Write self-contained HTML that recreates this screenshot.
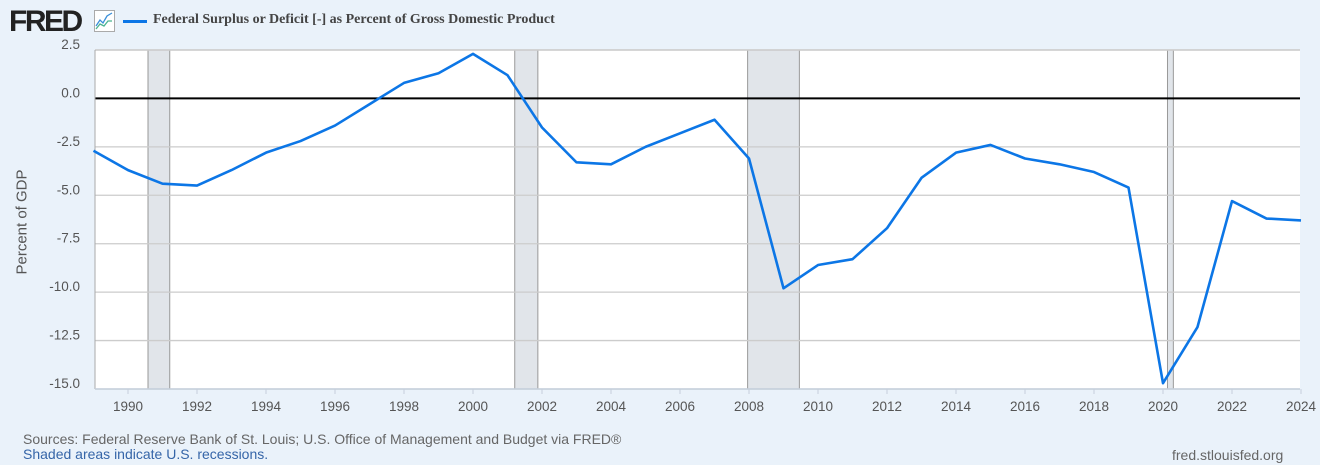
<!DOCTYPE html>
<html><head><meta charset="utf-8"><style>
body{margin:0;width:1320px;height:465px;background:#eaf2fa;font-family:"Liberation Sans",sans-serif;overflow:hidden;position:relative}
.t{position:absolute;white-space:nowrap}
</style></head><body>
<div class="t" style="left:9px;top:5px;font:bold 30px 'Liberation Sans',sans-serif;color:#222;letter-spacing:-2.5px">FRED</div>
<svg style="position:absolute;left:94px;top:10px" width="21" height="22"><rect x="0.5" y="0.5" width="20" height="21" fill="#fff" stroke="#aaa"/><polyline points="2,16 6,10 9,13 13,6 18,3" fill="none" stroke="#3b8fd9" stroke-width="1.3"/><polyline points="2,19 6,14 10,16 14,11 18,11" fill="none" stroke="#4bb38f" stroke-width="1.3"/></svg>
<div style="position:absolute;left:123px;top:20px;width:24px;height:3px;background:#0c76e6"></div>
<div class="t" style="left:153px;top:12px;font:bold 14px 'Liberation Serif',serif;color:#444">Federal Surplus or Deficit [-] as Percent of Gross Domestic Product</div>
<svg id="c" style="position:absolute;left:0;top:0" width="1320" height="465"></svg>
<div class="t" style="left:22px;top:222px;transform:translate(-50%,-50%) rotate(-90deg);font-size:15px;color:#555">Percent of GDP</div>
<div class="t" style="left:23px;top:431px;font-size:14px;color:#666">Sources: Federal Reserve Bank of St. Louis; U.S. Office of Management and Budget via FRED®</div>
<div class="t" style="left:23px;top:446px;font-size:14px;color:#3565a8">Shaded areas indicate U.S. recessions.</div>
<div class="t" style="left:1172px;top:447px;font-size:14px;color:#666">fred.stlouisfed.org</div>
<script>
const years=[1989,1990,1991,1992,1993,1994,1995,1996,1997,1998,1999,2000,2001,2002,2003,2004,2005,2006,2007,2008,2009,2010,2011,2012,2013,2014,2015,2016,2017,2018,2019,2020,2021,2022,2023,2024];
const values=[-2.7,-3.7,-4.4,-4.5,-3.7,-2.8,-2.2,-1.4,-0.3,0.8,1.3,2.3,1.2,-1.5,-3.3,-3.4,-2.5,-1.8,-1.1,-3.1,-9.8,-8.6,-8.3,-6.7,-4.1,-2.8,-2.4,-3.1,-3.4,-3.8,-4.6,-14.7,-11.8,-5.3,-6.2,-6.3];
const yTicks=[2.5,0,-2.5,-5,-7.5,-10,-12.5,-15];
const yTickLabels=["2.5","0.0","-2.5","-5.0","-7.5","-10.0","-12.5","-15.0"];
const xTicks=[1990,1992,1994,1996,1998,2000,2002,2004,2006,2008,2010,2012,2014,2016,2018,2020,2022,2024];
const recStart=[1990.58,2001.21,2007.96,2020.13];
const recEnd=[1991.21,2001.88,2009.46,2020.3];
const L=95,R=1300,T=50,B=389;
const X=y=>128+(y-1990)*(1301-128)/34;
const Y=v=>T+(2.5-v)*(B-T)/17.5;
const svg=document.getElementById('c');const NS='http://www.w3.org/2000/svg';
function mk(tag,a,p){const e=document.createElementNS(NS,tag);for(const k in a)e.setAttribute(k,a[k]);(p||svg).appendChild(e);return e;}
const bg=mk('rect',{x:L,y:T,width:R-L,height:B-T,fill:'#fff'});


recStart.forEach((s,i)=>{const r=mk('rect',{x:X(s),y:T,width:X(recEnd[i])-X(s),height:B-T,fill:'#e1e5ea',stroke:'#999','stroke-width':1});

});
yTicks.forEach((v,i)=>{
 const g=mk('line',{x1:L,x2:R,y1:Y(v),y2:Y(v),stroke:v===0?'#000':'#ccc','stroke-width':v===0?2:1.3});
 
 
 const t=mk('text',{x:80,y:Y(v)-1,'text-anchor':'end','font-size':13.5,fill:'#555','font-family':'Liberation Sans,sans-serif'});t.textContent=yTickLabels[i];
 
 
});
mk('line',{x1:L,x2:R,y1:T,y2:T,stroke:'#ccc','stroke-width':1.5});
mk('line',{x1:L,x2:L,y1:T,y2:B,stroke:'#aaa','stroke-width':1});
mk('line',{x1:L,x2:R,y1:B,y2:B,stroke:'#c5cfdc','stroke-width':1.5});
xTicks.forEach(y=>{
 mk('line',{x1:X(y),x2:X(y),y1:B,y2:B+5,stroke:'#c5cfdc'});
 const t=mk('text',{x:X(y),y:B+22,'text-anchor':'middle','font-size':13.5,fill:'#555','font-family':'Liberation Sans,sans-serif'});t.textContent=y;
 
 
});
const line=mk('polyline',{points:years.map((y,i)=>X(y)+','+Y(values[i])).join(' '),fill:'none',stroke:'#0c76e6','stroke-width':2.6,'stroke-linejoin':'round'});


</script>
</body></html>
